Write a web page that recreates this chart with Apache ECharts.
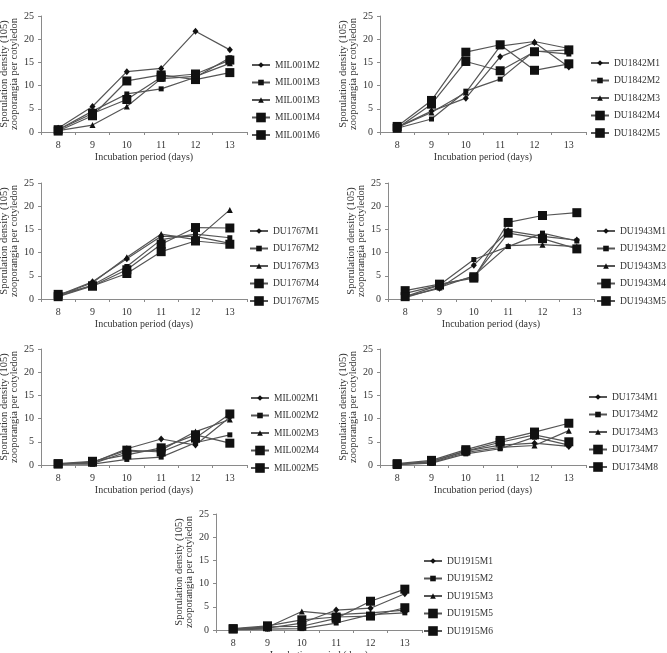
<!DOCTYPE html>
<html>
<head>
<meta charset="utf-8">
<script src="https://cdn.jsdelivr.net/npm/echarts@6/dist/echarts.min.js"></script>
<style>
html,body{margin:0;padding:0;background:#fff;}
#c{width:667px;height:653px;}
</style>
</head>
<body>
<div id="c"></div>
<script>
// ---------- data ----------
const days = ['8', '9', '10', '11', '12', '13'];
const yMin = 0, yMax = 25, yStep = 5;
const xTitle = 'Incubation period (days)';
const yTitle = 'Sporulation density (105)\nzooporangia per cotyledon';

// Panel 1: MIL001
const mil001Names = ['MIL001M2', 'MIL001M3', 'MIL001M3 ', 'MIL001M4', 'MIL001M6'];
const mil001M2 = [0.8, 5.5, 13.0, 13.7, 21.7, 17.7];
const mil001M3a = [0.5, 4.5, 8.2, 9.3, 11.8, 16.0];
const mil001M3b = [0.3, 1.5, 5.5, 11.5, 12.0, 14.8];
const mil001M4 = [0.2, 3.5, 11.0, 12.3, 11.3, 12.8];
const mil001M6 = [0.5, 4.0, 7.0, 11.8, 12.5, 15.5];

// Panel 2: DU1842
const du1842Names = ['DU1842M1', 'DU1842M2', 'DU1842M3', 'DU1842M4', 'DU1842M5'];
const du1842M1 = [1.0, 4.5, 7.3, 16.2, 19.3, 14.0];
const du1842M2 = [0.8, 2.8, 8.8, 11.4, 17.5, 16.8];
const du1842M3 = [1.0, 4.2, 8.5, 18.5, 19.5, 18.0];
const du1842M4 = [1.2, 6.8, 17.2, 18.8, 13.3, 14.7];
const du1842M5 = [0.8, 6.0, 15.2, 13.2, 17.3, 17.7];

// Panel 3: DU1767
const du1767Names = ['DU1767M1', 'DU1767M2', 'DU1767M3', 'DU1767M4', 'DU1767M5'];
const du1767M1 = [0.8, 3.7, 8.7, 13.5, 13.5, 12.0];
const du1767M2 = [0.6, 3.0, 7.0, 12.8, 14.0, 13.2];
const du1767M3 = [0.7, 3.5, 9.0, 14.0, 12.8, 19.2];
const du1767M4 = [1.0, 2.8, 6.3, 11.8, 15.4, 15.3];
const du1767M5 = [0.5, 2.8, 5.5, 10.2, 12.5, 11.8];

// Panel 4: DU1943
const du1943Names = ['DU1943M1', 'DU1943M2', 'DU1943M3', 'DU1943M4', 'DU1943M5'];
const du1943M1 = [0.5, 2.3, 7.3, 14.7, 13.5, 12.7];
const du1943M2 = [1.2, 3.0, 8.5, 11.3, 14.2, 12.5];
const du1943M3 = [0.3, 2.5, 5.0, 11.5, 11.7, 11.3];
const du1943M4 = [1.8, 3.2, 4.5, 16.5, 18.0, 18.6];
const du1943M5 = [0.5, 3.0, 4.8, 14.2, 13.0, 10.8];

// Panel 5: MIL002
const mil002Names = ['MIL002M1', 'MIL002M2', 'MIL002M3', 'MIL002M4', 'MIL002M5'];
const mil002M1 = [0.2, 0.5, 3.5, 5.6, 4.3, 10.3];
const mil002M2 = [0.3, 0.2, 1.2, 1.7, 4.8, 6.5];
const mil002M3 = [0.2, 0.3, 2.8, 3.2, 7.2, 9.8];
const mil002M4 = [0.3, 0.8, 2.2, 3.7, 6.5, 4.7];
const mil002M5 = [0.2, 0.6, 3.2, 2.8, 5.8, 11.0];

// Panel 6: DU1734
const du1734Names = ['DU1734M1', 'DU1734M2', 'DU1734M3', 'DU1734M7', 'DU1734M8'];
const du1734M1 = [0.2, 0.7, 3.0, 4.3, 4.7, 4.0];
const du1734M2 = [0.1, 0.4, 2.4, 3.5, 6.0, 4.3];
const du1734M3 = [0.2, 0.5, 2.7, 3.8, 4.2, 7.4];
const du1734M7 = [0.3, 1.0, 3.3, 5.3, 7.1, 9.0];
const du1734M8 = [0.1, 0.8, 3.0, 4.9, 6.5, 5.0];

// Panel 7: DU1915
const du1915Names = ['DU1915M1', 'DU1915M2', 'DU1915M3', 'DU1915M5', 'DU1915M6'];
const du1915M1 = [0.2, 0.4, 1.5, 4.3, 4.7, 7.8];
const du1915M2 = [0.1, 0.2, 0.3, 1.5, 3.3, 3.7];
const du1915M3 = [0.2, 0.6, 4.0, 3.3, 3.7, 4.3];
const du1915M5 = [0.3, 0.9, 2.2, 2.8, 3.0, 4.8];
const du1915M6 = [0.2, 0.7, 0.8, 2.5, 6.2, 8.8];

const panels = [
  { names: mil001Names, values: [mil001M2, mil001M3a, mil001M3b, mil001M4, mil001M6] },
  { names: du1842Names, values: [du1842M1, du1842M2, du1842M3, du1842M4, du1842M5] },
  { names: du1767Names, values: [du1767M1, du1767M2, du1767M3, du1767M4, du1767M5] },
  { names: du1943Names, values: [du1943M1, du1943M2, du1943M3, du1943M4, du1943M5] },
  { names: mil002Names, values: [mil002M1, mil002M2, mil002M3, mil002M4, mil002M5] },
  { names: du1734Names, values: [du1734M1, du1734M2, du1734M3, du1734M7, du1734M8] },
  { names: du1915Names, values: [du1915M1, du1915M2, du1915M3, du1915M5, du1915M6] }
];

// ---------- layout / style ----------
const layout = [
  { left: 41, top: 16 }, { left: 380, top: 16 },
  { left: 41, top: 183 }, { left: 388, top: 183 },
  { left: 41, top: 349 }, { left: 380, top: 349 },
  { left: 216, top: 514 }
];
// legend: left edge of the line icon, centre of first item
const legendLeft = [251, 590, 249, 596, 250, 588, 423];
const legendFirst = [65, 63, 231, 231, 398, 397, 561];
const legendStep = 17.5;
const gridW = 206, gridH = 116;
const FONT = 'Liberation Serif';
const symbols = [
  { symbol: 'diamond', size: [6, 7] },
  { symbol: 'rect', size: 5 },
  { symbol: 'triangle', size: 6 },
  { symbol: 'rect', size: 9 },
  { symbol: 'rect', size: 9 }
];

const option = {
  animation: false,
  backgroundColor: '#fff',
  textStyle: { fontFamily: FONT },
  grid: [], xAxis: [], yAxis: [], series: [], legend: []
};

function legendBlock(names, left, top, iconH) {
  return {
    orient: 'vertical', left: left, top: top, padding: 0,
    data: names, itemWidth: 18, itemHeight: iconH, itemGap: 5.5,
    textStyle: { fontFamily: FONT, fontSize: 9.5, lineHeight: 12, color: '#333' },
    selectedMode: false
  };
}

panels.forEach((p, i) => {
  const L = layout[i];
  option.grid.push({ left: L.left, top: L.top, width: gridW, height: gridH, containLabel: false, outerBoundsMode: 'none' });
  option.xAxis.push({
    type: 'category', gridIndex: i, data: days, boundaryGap: true,
    name: xTitle, nameLocation: 'middle', nameGap: 20,
    nameTextStyle: { fontFamily: FONT, fontSize: 10, color: '#333' },
    axisLine: { lineStyle: { color: '#8a8a8a', width: 1 } },
    axisTick: { show: true, length: 3, inside: false, lineStyle: { color: '#8a8a8a' } },
    axisLabel: { fontFamily: FONT, fontSize: 10, color: '#333', margin: 8 },
    splitLine: { show: false }
  });
  option.yAxis.push({
    type: 'value', gridIndex: i, min: yMin, max: yMax, interval: yStep,
    name: yTitle, nameLocation: 'middle', nameGap: 18, nameRotate: 90,
    nameTextStyle: { fontFamily: FONT, fontSize: 10.5, color: '#333', lineHeight: 10, align: 'center' },
    axisLine: { show: true, lineStyle: { color: '#8a8a8a', width: 1 } },
    axisTick: { show: true, length: 3, lineStyle: { color: '#8a8a8a' } },
    axisLabel: { fontFamily: FONT, fontSize: 10, color: '#333', margin: 7 },
    splitLine: { show: false }
  });
  p.names.forEach((nm, k) => {
    option.series.push({
      type: 'line', name: nm, xAxisIndex: i, yAxisIndex: i,
      data: p.values[k],
      symbol: symbols[k].symbol, symbolSize: symbols[k].size,
      showAllSymbol: true,
      itemStyle: { color: '#111' },
      lineStyle: { color: '#555', width: 1.2 },
      emphasis: { disabled: true }
    });
  });
  // small-marker entries and big-marker entries
  option.legend.push(legendBlock(p.names.slice(0, 3), legendLeft[i], legendFirst[i] - 6, 7));
  option.legend.push(legendBlock(p.names.slice(3), legendLeft[i], legendFirst[i] + 3 * legendStep - 6, 12));
});

const chart = echarts.init(document.getElementById('c'), null, { renderer: 'canvas' });
chart.setOption(option);
</script>
</body>
</html>
